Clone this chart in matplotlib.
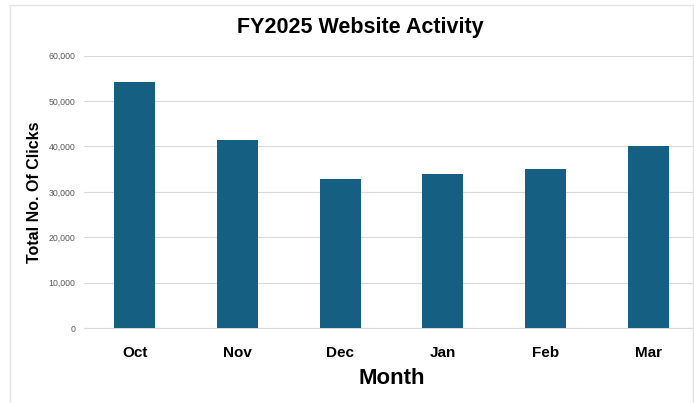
import matplotlib
matplotlib.use("Agg")
import matplotlib.pyplot as plt
from matplotlib.patches import Rectangle
from matplotlib.ticker import FuncFormatter
from matplotlib.font_manager import FontProperties

months = ["Oct", "Nov", "Dec", "Jan", "Feb", "Mar"]
clicks = [54300, 41500, 32900, 33900, 35000, 40000]

W, H = 694, 403
fig = plt.figure(figsize=(W / 100, H / 100), dpi=100)

narrow = dict(family="Liberation Sans", stretch="condensed", weight="bold")
normal = dict(family="Liberation Sans", stretch="normal", weight="bold")

# chart frame (light grey border, partly cut off on right/bottom)
fig.patches.append(Rectangle((10 / W, -0.1), (693 - 10) / W, (H - 5) / H + 0.1,
                             transform=fig.transFigure, fill=False,
                             edgecolor="#e3e3e3", linewidth=1.0))

ax = fig.add_axes([83.6 / W, 75 / H, 616 / W, (328 - 55.7) / H])
ax.bar(range(len(months)), clicks, width=0.4, color="#156082", zorder=3)

ax.set_xlim(-0.5, len(months) - 0.5)
ax.set_ylim(0, 60000)
ax.set_yticks(range(0, 60001, 10000))
ax.yaxis.set_major_formatter(FuncFormatter(lambda v, p: f"{int(v):,}"))
ax.grid(axis="y", color="#d9d9d9", linewidth=0.8, zorder=0)
for s in ["top", "right", "left"]:
    ax.spines[s].set_visible(False)
ax.spines["bottom"].set_color("#d9d9d9")
ax.spines["bottom"].set_linewidth(0.8)
ax.tick_params(axis="both", length=0)
ax.tick_params(axis="y", labelsize=6.3, labelcolor="#595959", pad=6)
for lab in ax.get_yticklabels():
    lab.set_fontproperties(FontProperties(family="Liberation Sans", size=6.3))

ax.set_xticks(range(len(months)))
ax.set_xticklabels(months)
ax.tick_params(axis="x", pad=13)
for lab in ax.get_xticklabels():
    lab.set_fontproperties(FontProperties(size=11, **narrow))

fig.text(360 / W, 1 - 28 / H, "FY2025 Website Activity", ha="center", va="center",
         fontproperties=FontProperties(size=15.5, **normal))
fig.text(35 / W, 1 - 192 / H, "Total No. Of Clicks", ha="center", va="center",
         rotation=90, fontproperties=FontProperties(size=11.5, **normal))
fig.text(392 / W, 1 - 378 / H, "Month", ha="center", va="center",
         fontproperties=FontProperties(size=16, **narrow))

fig.savefig("out.png", dpi=100)
